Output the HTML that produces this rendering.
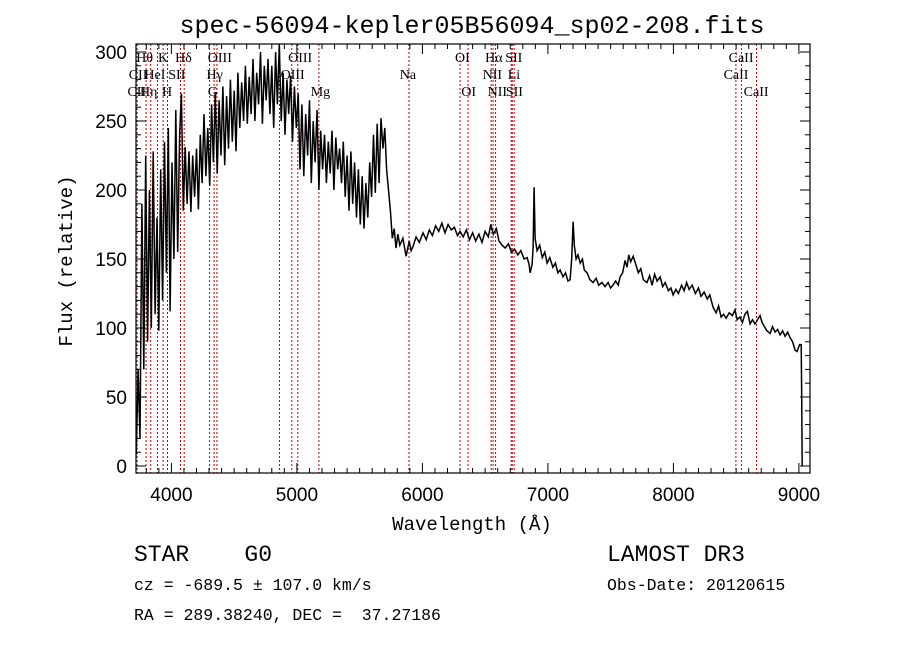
<!DOCTYPE html>
<html><head><meta charset="utf-8"><style>
html,body{margin:0;padding:0;background:#fff;}
#wrap{position:relative;width:900px;height:649px;overflow:hidden;}
svg{position:absolute;left:0;top:0;}
text{white-space:pre;}
</style></head><body>
<div id="wrap">
<svg id="chart" width="900" height="649" font-family="Liberation Sans, sans-serif" xml:space="preserve">
<text x="472" y="33" text-anchor="middle" font-family="Liberation Mono, monospace" font-size="25">spec-56094-kepler05B56094_sp02-208.fits</text>
<text x="472" y="530" text-anchor="middle" font-family="Liberation Mono, monospace" font-size="19">Wavelength (Å)</text>
<text x="72" y="261" text-anchor="middle" transform="rotate(-90 72 261)" font-family="Liberation Mono, monospace" font-size="19">Flux (relative)</text>
<text x="134" y="561" font-family="Liberation Mono, monospace" font-size="23">STAR    G0</text>
<text x="607" y="561" font-family="Liberation Mono, monospace" font-size="23">LAMOST DR3</text>
<text x="134" y="590" font-family="Liberation Mono, monospace" font-size="16.5">cz = -689.5 ± 107.0 km/s</text>
<text x="607" y="590" font-family="Liberation Mono, monospace" font-size="16.5">Obs-Date: 20120615</text>
<text x="134" y="620" font-family="Liberation Mono, monospace" font-size="16.5">RA = 289.38240, DEC =  37.27186</text>
</svg>
</div>
<script>
const xTicks = [4000,5000,6000,7000,8000,9000];
const yTicks = [0,50,100,150,200,250,300];
const lineWaves = [3727,3798,3835,3889,3934,3969,4072,4102,4304,4340,4363,4861,4959,5007,5175,5893,6300,6364,6548,6563,6583,6707,6716,6731,8498,8542,8662];
const lineLabels = ["Hθ","K","Hδ","OIII","OIII","OI","Hα","SII","CaII","CII","HeI","SII","Hγ","OIII","Na","NII","Li","CaII","CII","Hη","H","G","Mg","OI","NII","SII","CaII"];
const labelWaves = [3720,3893,4030,4290,4930,6260,6500,6660,8440,3660,3785,3975,4280,4870,5820,6480,6680,8400,3650,3750,3925,4290,5110,6310,6520,6665,8560];
const labelRows = [0,0,0,0,0,0,0,0,0,1,1,1,1,1,1,1,1,1,2,2,2,2,2,2,2,2,2];
const waves = [3714,3720,3735,3750,3765,3780,3795,3810,3825,3840,3855,3870,3885,3900,3915,3930,3945,3960,3975,3990,4005,4020,4035,4050,4065,4080,4095,4110,4125,4140,4155,4170,4185,4200,4215,4230,4245,4260,4275,4290,4305,4320,4335,4350,4365,4380,4395,4410,4425,4440,4455,4470,4485,4500,4515,4530,4545,4560,4575,4590,4605,4620,4635,4650,4665,4680,4695,4710,4725,4740,4755,4770,4785,4800,4815,4830,4845,4860,4875,4890,4905,4920,4935,4950,4965,4980,4995,5010,5025,5040,5055,5070,5085,5100,5115,5130,5145,5160,5175,5190,5205,5220,5235,5250,5265,5280,5295,5310,5325,5340,5355,5370,5385,5400,5415,5430,5445,5460,5475,5490,5505,5520,5535,5550,5565,5580,5595,5610,5625,5640,5655,5670,5685,5700,5715,5730,5745,5760,5775,5790,5805,5820,
5845,5870,5895,5910,5925,5950,5975,6005,6030,6055,6080,6105,6130,6155,6180,6205,6230,6255,6280,6300,6325,6350,6375,6400,6425,6450,6475,6500,6525,6545,6565,6590,6610,6635,6660,6685,6710,6735,6760,6785,6810,6834,6850,6858,6874,6882,6890,6898,6914,6935,6955,6975,6994,7015,7040,7060,7080,7097,7120,7140,7160,7177,7190,7201,7210,7225,7240,7257,7275,7290,7312,7335,7360,7385,7405,7430,7455,7480,7500,7519,7540,7560,7575,7595,7615,7630,7645,7660,7680,7700,7720,7740,7760,7790,7810,7830,7850,7870,7894,7915,7935,7960,7980,7998,8020,8040,8065,8085,8105,8125,8150,8175,8200,8220,8245,8270,8290,8316,8340,8360,8380,8400,8420,8445,8470,8490,8508,8530,8550,8570,8590,8611,8630,8650,8670,8690,8707,8725,8745,8771,8790,8810,8830,8850,8870,8890,8910,8930,8950,8970,8986,9005,9018,9022,9026];
const flux = [5,10,70,20,190,70,225,90,200,100,228,110,180,98,215,120,235,140,245,112,220,150,258,155,240,270,185,231,190,228,184,225,195,230,186,240,205,255,210,245,203,262,220,270,212,265,225,275,218,268,230,280,235,272,228,285,245,278,250,290,248,282,255,295,250,285,262,300,248,290,265,295,255,290,245,300,262,306,250,285,240,280,255,283,235,275,245,270,215,262,210,255,225,265,205,250,220,258,200,243,215,240,205,235,212,243,200,238,215,230,205,235,195,225,185,228,190,220,180,215,175,210,172,205,180,220,195,240,198,248,205,252,230,245,215,200,185,165,172,158,168,160,
165,152,163,156,159,166,162,169,164,171,167,174,170,176,169,175,171,173,167,170,166,171,164,169,163,168,162,170,166,175,168,172,163,160,158,161,155,157,153,156,150,151,146,140,146,158,202,165,156,160,151,155,147,151,144,147,140,142,137,140,134,135,150,177,160,150,153,147,150,142,140,135,133,136,131,133,130,133,129,131,134,131,137,140,149,144,153,148,152,146,140,143,135,133,138,131,139,134,137,130,133,127,129,124,128,125,131,127,133,128,131,125,129,123,126,121,124,115,111,116,108,110,107,111,109,113,106,108,104,110,112,103,106,103,106,109,104,101,98,96,101,97,99,95,98,94,97,93,90,84,83,88,88,50,0];
const NS='http://www.w3.org/2000/svg';
const svg=document.getElementById('chart');
const L=136,R=810,T=44,B=473;
function xs(w){return 171.4+(w-4000)*0.1255;}
function ys(v){return 466-v*1.38;}
function mk(tag,attrs,parent){const e=document.createElementNS(NS,tag);for(const k in attrs)e.setAttribute(k,attrs[k]);(parent||svg).appendChild(e);return e;}
const defs=mk('defs',{});const cp=mk('clipPath',{id:'pc'},defs);mk('rect',{x:L,y:T,width:R-L,height:B-T},cp);
const rl=mk('g',{'clip-path':'url(#pc)'});


lineWaves.forEach(w=>{const l=mk('line',{x1:xs(w),x2:xs(w),y1:T,y2:B,stroke:'#c00000','stroke-width':1,'stroke-dasharray':'2,2'},rl);

});
const rowY=[62,79,96];
lineLabels.forEach((t,i)=>{const e=mk('text',{x:xs(labelWaves[i]),y:rowY[labelRows[i]],'font-family':'Liberation Serif, serif','font-size':14},svg);e.textContent=t;

});
let d='';waves.forEach((w,i)=>{d+=(i?'L':'M')+xs(w).toFixed(1)+','+ys(flux[i]).toFixed(1);});
const sp=mk('path',{d:d,fill:'none',stroke:'#000','stroke-width':1.5,'clip-path':'url(#pc)'});


const fr=mk('rect',{x:L,y:T,width:R-L,height:B-T,fill:'none',stroke:'#000','stroke-width':1.2});


const ax=mk('g',{stroke:'#000','stroke-width':1});


for(let w=3800;w<=9000;w+=100){const x=xs(w);if(x<L||x>R)continue;const len=(w%1000===0)?10:5;
mk('line',{x1:x,x2:x,y1:B,y2:B-len},ax);mk('line',{x1:x,x2:x,y1:T,y2:T+len},ax);}
for(let v=0;v<=300;v+=10){const y=ys(v);if(y<T)continue;const len=(v%50===0)?10:5;
mk('line',{x1:L,x2:L+len,y1:y,y2:y},ax);mk('line',{x1:R,x2:R-len,y1:y,y2:y},ax);}
xTicks.forEach(w=>{const e=mk('text',{x:xs(w),y:501,'text-anchor':'middle','font-size':19,'font-family':'Liberation Sans, sans-serif'});e.textContent=w;

});
yTicks.forEach(v=>{const e=mk('text',{x:127,y:ys(v)+7,'text-anchor':'end','font-size':19,'font-family':'Liberation Sans, sans-serif'});e.textContent=v;

});
</script>
</body></html>
